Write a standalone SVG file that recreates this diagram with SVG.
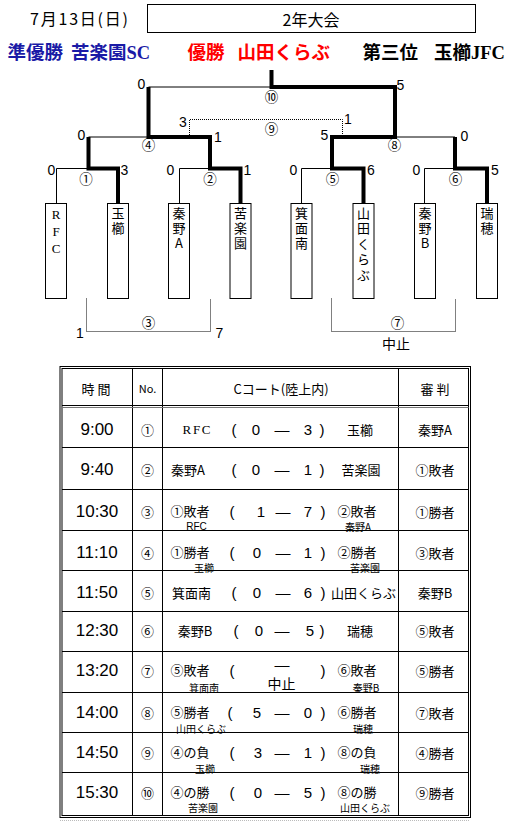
<svg xmlns="http://www.w3.org/2000/svg" width="516" height="824" viewBox="0 0 516 824">
<style>
text{font-family:"Noto Sans CJK JP",sans-serif;dominant-baseline:central;text-anchor:middle;fill:#000}
.hd{font-size:16px}
.win{font-family:"Liberation Serif","Noto Sans CJK JP",serif;font-size:18.5px;text-anchor:start;font-weight:bold}
.sc{font-family:"Liberation Sans",sans-serif;font-size:14px}
.cn{font-size:13.5px}
.bx{font-size:13px;writing-mode:vertical-rl;text-orientation:upright;text-anchor:start;letter-spacing:2px}
.lat{font-family:"Liberation Serif","Noto Sans CJK JP",serif}
.tm{font-family:"Liberation Sans",sans-serif;font-size:17px}
.m{font-size:13px}
.sub{font-size:10px}
.th{font-size:13px}
.p{font-family:"Liberation Sans",sans-serif;font-size:15px}
.ln{fill:none;stroke:#000;stroke-width:1}
.tk{fill:none;stroke:#000;stroke-width:4;stroke-linejoin:miter}
.dt{fill:none;stroke:#000;stroke-width:1;stroke-dasharray:1 1}
.box{fill:#fff;stroke:#000;stroke-width:1}
.blue{fill:#1a1aa6}
.red{fill:#ff0000}
</style>

<g id="header">
<text class="hd" x="79" y="18" textLength="98" lengthAdjust="spacing">7月13日(日)</text>
<rect x="147.5" y="4.5" width="328" height="28" fill="none" stroke="#000"/>
<text class="hd" x="311" y="18.5">2年大会</text>
</g>

<g id="results">
<text class="win blue" x="7.5" y="53">準優勝</text>
<text class="win blue" x="71" y="53">苦楽園SC</text>
<text class="win red" x="187.5" y="53">優勝</text>
<text class="win red" x="237.5" y="53">山田くらぶ</text>
<text class="win" x="362.5" y="53">第三位</text>
<text class="win" x="434" y="53">玉櫛JFC</text>
</g>

<g id="connectors">
<path class="ln" d="M148.5,87 H271.5 M395,137 H455 M88.5,168.5 H56.5 V203.5 M210,168.5 H179.5 V203.5 M88.5,137 H148.5 M332,168.5 H301.5 V203.5 M455,168.5 H424.5 V203.5"/>
<path class="tk" d="M271.5,70 V87 H395 V137 H332 V168.5 H363.5 V203.5"/>
<path class="tk" d="M148.5,87 V137 H210 V168.5 H240.5 V203.5"/>
<path class="tk" d="M88.5,137 V168.5 H118 V203.5"/>
<path class="tk" d="M455,137 V168.5 H487 V203.5"/>
<path class="dt" d="M189.5,135 V119.5 H342.5 V135"/>
<path class="dt" d="M86.5,298.5 V331.5 H210.5 V298.5"/>
<path class="dt" d="M331.5,298.5 V331.5 H455.5 V298.5"/>
</g>

<g id="match-labels">
<text class="cn" x="271.5" y="96">⑩</text>
<text class="cn" x="148.5" y="144">④</text>
<text class="cn" x="394.5" y="144">⑧</text>
<text class="cn" x="271.5" y="127.5">⑨</text>
<text class="cn" x="86" y="178">①</text>
<text class="cn" x="210" y="178">②</text>
<text class="cn" x="332.5" y="178">⑤</text>
<text class="cn" x="455.5" y="178">⑥</text>
<text class="cn" x="148.5" y="322">③</text>
<text class="cn" x="397.5" y="322">⑦</text>
<text x="396" y="343" style="font-size:14px">中止</text>
</g>

<g id="scores">
<text class="sc" x="141.5" y="84">0</text>
<text class="sc" x="400.5" y="85">5</text>
<text class="sc" x="183" y="122">3</text>
<text class="sc" x="348" y="119">1</text>
<text class="sc" x="81.5" y="135">0</text>
<text class="sc" x="218" y="137">1</text>
<text class="sc" x="324.5" y="135">5</text>
<text class="sc" x="464.5" y="136">0</text>
<text class="sc" x="51.5" y="170">0</text>
<text class="sc" x="124.5" y="170">3</text>
<text class="sc" x="170.5" y="170">0</text>
<text class="sc" x="247.5" y="170">1</text>
<text class="sc" x="293.5" y="170">0</text>
<text class="sc" x="371" y="170">6</text>
<text class="sc" x="416.5" y="170">0</text>
<text class="sc" x="495" y="170">5</text>
<text class="sc" x="80" y="333">1</text>
<text class="sc" x="219.5" y="333">7</text>
</g>

<g id="team-rfc"><rect class="box" x="45.5" y="203.5" width="21" height="95"/>
<text class="bx" x="56" y="206.5" style="font-family:'Liberation Serif','Noto Sans CJK JP',serif">RFC</text></g>
<g id="team-tamagushi"><rect class="box" x="107.5" y="203.5" width="21" height="95"/>
<text class="bx" x="118" y="206.5">玉櫛</text></g>
<g id="team-hatanoA"><rect class="box" x="168.5" y="203.5" width="21" height="95"/>
<text class="bx" x="179" y="206.5">秦野A</text></g>
<g id="team-kurakuen"><rect class="box" x="230" y="203.5" width="21" height="95"/>
<text class="bx" x="240.5" y="206.5">苦楽園</text></g>
<g id="team-minoominami"><rect class="box" x="291" y="203.5" width="21" height="95"/>
<text class="bx" x="301.5" y="206.5">箕面南</text></g>
<g id="team-yamada"><rect class="box" x="353" y="203.5" width="21" height="95"/>
<text class="bx" x="363.5" y="206.5" style="letter-spacing:2.5px">山田くらぶ</text></g>
<g id="team-hatanoB"><rect class="box" x="414.5" y="203.5" width="21" height="95"/>
<text class="bx" x="425" y="206.5">秦野B</text></g>
<g id="team-mizuho"><rect class="box" x="476.5" y="203.5" width="21" height="95"/>
<text class="bx" x="487" y="206.5">瑞穂</text></g>

<g id="schedule-table">
<rect x="60" y="366.5" width="410.5" height="451" fill="none" stroke="#000"/>
<rect x="62" y="368.5" width="406.5" height="447" fill="none" stroke="#000"/>
<path class="ln" d="M132.5,368.5 V815.5 M162.5,368.5 V815.5 M398.5,368.5 V815.5"/>
<path class="ln" d="M62,405.5 H468.5"/>
<path d="M62,407.5 H468.5" stroke="#777" stroke-width="1"/>
<path class="ln" d="M62,447.5 H468.5 M62,489.5 H468.5 M62,530.5 H468.5 M62,570.5 H468.5 M62,611.5 H468.5 M62,651.5 H468.5 M62,692.5 H468.5 M62,732.5 H468.5 M62,772.5 H468.5"/>
<path d="M60,820.5 H470" stroke="#bbb" stroke-width="1" stroke-dasharray="1 1"/>

<text class="th" x="96" y="388">時  間</text>
<text class="th" x="147.5" y="388" style="font-size:11px">No.</text>
<text class="th" x="281" y="388">Cコート(陸上内)</text>
<text class="th" x="435" y="388">審  判</text>

<!-- row 1 -->
<text class="tm" x="97" y="429">9:00</text>
<text class="m" x="147.5" y="429">①</text>
<text class="m lat" x="196.5" y="429" textLength="28" lengthAdjust="spacing">RFC</text>
<text class="p" x="234" y="429">(</text><text class="p" x="256" y="429">0</text><text class="p" x="282" y="429">—</text><text class="p" x="308" y="429">3</text><text class="p" x="322" y="429">)</text>
<text class="m" x="360" y="429">玉櫛</text>
<text class="m" x="435" y="429">秦野A</text>

<!-- row 2 -->
<text class="tm" x="97" y="469.5">9:40</text>
<text class="m" x="147.5" y="469.5">②</text>
<text class="m" x="188" y="469.5">秦野A</text>
<text class="p" x="234" y="469.5">(</text><text class="p" x="256" y="469.5">0</text><text class="p" x="282" y="469.5">—</text><text class="p" x="308" y="469.5">1</text><text class="p" x="322" y="469.5">)</text>
<text class="m" x="361" y="469.5">苦楽園</text>
<text class="m" x="435" y="469.5">①敗者</text>

<!-- row 3 -->
<text class="tm" x="97" y="511.5">10:30</text>
<text class="m" x="147.5" y="511.5">③</text>
<text class="m"><tspan x="190" y="510">①敗者</tspan><tspan class="sub" x="196.5" y="526" style="font-family:'Liberation Sans',sans-serif">RFC</tspan></text>
<text class="p" x="232" y="511.5">(</text><text class="p" x="261" y="511.5">1</text><text class="p" x="283" y="511.5">—</text><text class="p" x="308" y="511.5">7</text><text class="p" x="323" y="511.5">)</text>
<text class="m"><tspan x="357" y="510">②敗者</tspan><tspan class="sub" x="358" y="526">秦野A</tspan></text>
<text class="m" x="435" y="511.5">①勝者</text>

<!-- row 4 -->
<text class="tm" x="97" y="552.5">11:10</text>
<text class="m" x="147.5" y="552.5">④</text>
<text class="m"><tspan x="190" y="551">①勝者</tspan><tspan class="sub" x="204" y="567">玉櫛</tspan></text>
<text class="p" x="232" y="552.5">(</text><text class="p" x="257" y="552.5">0</text><text class="p" x="283" y="552.5">—</text><text class="p" x="308" y="552.5">1</text><text class="p" x="323" y="552.5">)</text>
<text class="m"><tspan x="357" y="551">②勝者</tspan><tspan class="sub" x="365" y="567">苦楽園</tspan></text>
<text class="m" x="435" y="552.5">③敗者</text>

<!-- row 5 -->
<text class="tm" x="97" y="592">11:50</text>
<text class="m" x="147.5" y="592">⑤</text>
<text class="m" x="191.5" y="592">箕面南</text>
<text class="p" x="234" y="592">(</text><text class="p" x="257" y="592">0</text><text class="p" x="283" y="592">—</text><text class="p" x="308" y="592">6</text><text class="p" x="323" y="592">)</text>
<text class="m" x="363.5" y="592">山田くらぶ</text>
<text class="m" x="435" y="592">秦野B</text>

<!-- row 6 -->
<text class="tm" x="97" y="630">12:30</text>
<text class="m" x="147.5" y="630">⑥</text>
<text class="m" x="195" y="630">秦野B</text>
<text class="p" x="236" y="630">(</text><text class="p" x="259" y="630">0</text><text class="p" x="282" y="630">—</text><text class="p" x="310" y="630">5</text><text class="p" x="322" y="630">)</text>
<text class="m" x="360" y="630">瑞穂</text>
<text class="m" x="435" y="630">⑤敗者</text>

<!-- row 7 -->
<text class="tm" x="97" y="670">13:20</text>
<text class="m" x="147.5" y="670">⑦</text>
<text class="m"><tspan x="190" y="669">⑤敗者</tspan><tspan class="sub" x="204" y="687">箕面南</tspan></text>
<text class="p" x="232" y="670">(</text><text class="p" x="323" y="670">)</text>
<text><tspan class="p" x="282" y="664">—</tspan><tspan x="281.5" y="683" style="font-size:14px">中止</tspan></text>
<text class="m"><tspan x="357" y="669">⑥敗者</tspan><tspan class="sub" x="366" y="687">秦野B</tspan></text>
<text class="m" x="435" y="670">⑤勝者</text>

<!-- row 8 -->
<text class="tm" x="97" y="712.5">14:00</text>
<text class="m" x="147.5" y="712.5">⑧</text>
<text class="m"><tspan x="190" y="711">⑤勝者</tspan><tspan class="sub" x="201" y="727.5">山田くらぶ</tspan></text>
<text class="p" x="230" y="712.5">(</text><text class="p" x="257" y="712.5">5</text><text class="p" x="282" y="712.5">—</text><text class="p" x="308" y="712.5">0</text><text class="p" x="323" y="712.5">)</text>
<text class="m"><tspan x="357" y="711">⑥勝者</tspan><tspan class="sub" x="363" y="727.5">瑞穂</tspan></text>
<text class="m" x="435" y="712.5">⑦敗者</text>

<!-- row 9 -->
<text class="tm" x="97" y="752.5">14:50</text>
<text class="m" x="147.5" y="752.5">⑨</text>
<text class="m"><tspan x="190" y="751">④の負</tspan><tspan class="sub" x="205" y="768">玉櫛</tspan></text>
<text class="p" x="232" y="752.5">(</text><text class="p" x="258" y="752.5">3</text><text class="p" x="282" y="752.5">—</text><text class="p" x="308" y="752.5">1</text><text class="p" x="323" y="752.5">)</text>
<text class="m"><tspan x="357" y="751">⑧の負</tspan><tspan class="sub" x="370" y="768">瑞穂</tspan></text>
<text class="m" x="435" y="752.5">④勝者</text>

<!-- row 10 -->
<text class="tm" x="97" y="792">15:30</text>
<text class="m" x="147.5" y="792">⑩</text>
<text class="m"><tspan x="190" y="790.5">④の勝</tspan><tspan class="sub" x="203" y="806.5">苦楽園</tspan></text>
<text class="p" x="232" y="792">(</text><text class="p" x="258" y="792">0</text><text class="p" x="282" y="792">—</text><text class="p" x="308" y="792">5</text><text class="p" x="323" y="792">)</text>
<text class="m"><tspan x="357" y="790.5">⑧の勝</tspan><tspan class="sub" x="365" y="806.5">山田くらぶ</tspan></text>
<text class="m" x="435" y="792">⑨勝者</text>
</g>
</svg>
